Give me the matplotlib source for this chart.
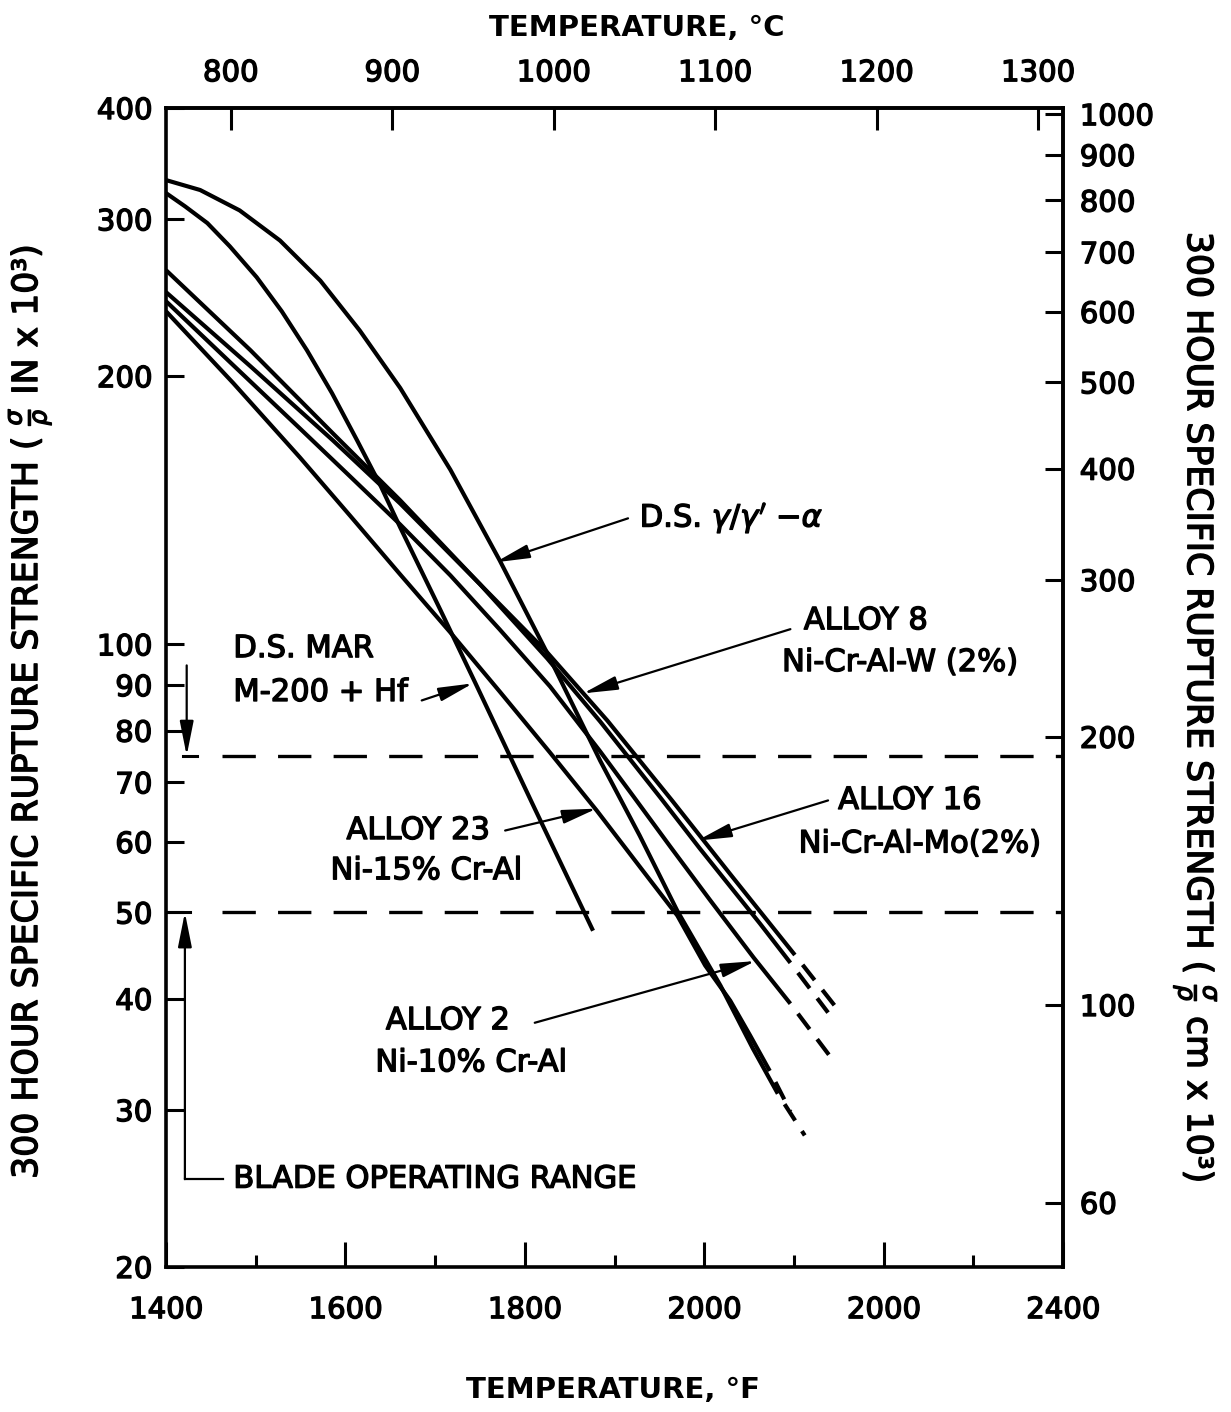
import matplotlib.pyplot as plt
import matplotlib.patheffects as pe
from matplotlib.ticker import NullLocator

plt.rcParams['font.family'] = ['DejaVu Sans']
plt.rcParams['mathtext.fontset'] = 'dejavusans'
plt.rcParams['lines.scale_dashes'] = False

# temperature (F) vs 300 hour specific rupture strength (sigma/rho, in x 10^3)
ds_gamma_temp = [1400, 1438, 1482, 1527, 1572, 1616, 1661, 1717, 1772, 1828, 1884,
                 1928, 1970, 2018, 2054, 2082]
ds_gamma_str = [332, 323.6, 307, 284, 256, 225, 194, 157, 124.2, 96.4, 74.0,
                61.0, 50.2, 41.4, 35.2, 31.3]
ds_gamma_ext_temp = [2082, 2112]
ds_gamma_ext_str = [31.3, 28.1]

ds_mar_temp = [1400, 1421, 1446, 1471, 1501, 1529, 1557, 1585, 1613, 1639, 1661,
               1706, 1745, 1811, 1876]
ds_mar_str = [321, 310.3, 297.1, 279.8, 258.3, 236.5, 213.9, 191.4, 169.4, 150.8,
              135.3, 109.2, 90.4, 65.4, 47.7]

alloy8_temp = [1400, 1494, 1586, 1661, 1750, 1825, 1892, 1964, 2029, 2101]
alloy8_str = [248.5, 205.2, 169.4, 143.9, 116.8, 97.9, 82.1, 66.8, 55.2, 44.8]
alloy8_ext_temp = [2101, 2148]
alloy8_ext_str = [44.8, 39.0]

alloy16_temp = [1400, 1494, 1586, 1661, 1750, 1825, 1884, 1951, 1995, 2062, 2096]
alloy16_str = [263, 213.9, 172.5, 145.1, 116.8, 96.4, 81.9, 67.3, 59.0, 48.6, 43.9]
alloy16_ext_temp = [2096, 2138]
alloy16_ext_str = [43.9, 38.6]

alloy23_temp = [1400, 1475, 1549, 1605, 1661, 1717, 1772, 1828, 1880, 1928, 1970,
                2001, 2029, 2051, 2073]
alloy23_str = [236.5, 196.4, 162.2, 139.5, 119.8, 103.1, 88.5, 75.6, 65.1, 56.3, 49.6,
               43.6, 39.8, 36.4, 33.2]
alloy23_ext_temp = [2073, 2096]
alloy23_ext_str = [33.2, 29.9]

alloy2_temp = [1400, 1475, 1549, 1605, 1661, 1717, 1772, 1828, 1884, 1921, 1962,
               2006, 2055, 2096]
alloy2_str = [242.7, 205.7, 174.8, 154.4, 136.3, 119.5, 103.9, 89.7, 75.8, 67.5, 59.3,
              51.7, 44.5, 39.5]
alloy2_ext_temp = [2096, 2140]
alloy2_ext_str = [39.5, 34.5]

# blade operating range limits
range_top = 75
range_bottom = 50

# axis ticks
f_ticks = [1400, 1600, 1800, 2000, 2200, 2400]
f_labels = ['1400', '1600', '1800', '2000', '2000', '2400']
f_minor = [1500, 1700, 1900, 2100, 2300]
c_ticks = [800, 900, 1000, 1100, 1200, 1300]
left_ticks = [20, 30, 40, 50, 60, 70, 80, 90, 100, 200, 300, 400]
right_ticks = [60, 100, 200, 300, 400, 500, 600, 700, 800, 900, 1000]

heavy = [pe.withStroke(linewidth=1.0, foreground='black')]

fig = plt.figure(figsize=(12.31, 14.12), dpi=100)
ax = fig.add_axes([0.1349, 0.1027, 0.7287, 0.8208])
ax.set_yscale('log')
ax.set_xlim(1400, 2400)
ax.set_ylim(20, 400)
for s in ax.spines.values():
    s.set_linewidth(2.6)

ax.set_xticks(f_ticks, labels=f_labels)
ax.set_xticks(f_minor, minor=True)
ax.set_yticks(left_ticks, labels=[str(v) for v in left_ticks])
ax.yaxis.set_minor_locator(NullLocator())
ax.tick_params(axis='x', which='major', direction='in', length=18, width=2.2,
               pad=21, labelsize=21)
ax.tick_params(axis='x', which='minor', direction='in', length=9, width=2.2)
ax.tick_params(axis='y', direction='in', length=13, width=2.2, pad=10, labelsize=21)

top = ax.secondary_xaxis('top', functions=(lambda f: (f - 32) * 5 / 9,
                                           lambda c: c * 9 / 5 + 32))
top.set_xticks(c_ticks, labels=[str(c) for c in c_ticks])
top.tick_params(direction='in', length=16, width=2.2, pad=15, labelsize=21)
top.spines['top'].set_linewidth(2.6)

right = ax.secondary_yaxis('right', functions=(lambda s: s * 2.54, lambda s: s / 2.54))
right.set_yticks(right_ticks, labels=[str(v) for v in right_ticks])
right.yaxis.set_minor_locator(NullLocator())
right.tick_params(direction='in', length=13, width=2.2, pad=12, labelsize=21)
right.spines['right'].set_linewidth(2.6)

for lbl in (ax.get_xticklabels() + ax.get_yticklabels() +
            top.get_xticklabels() + right.get_yticklabels()):
    lbl.set_path_effects(heavy)

# curves
lw = 3.0
ext_ls = (14, (14, 9))
for t, s in [(ds_gamma_temp, ds_gamma_str), (ds_mar_temp, ds_mar_str),
             (alloy8_temp, alloy8_str), (alloy16_temp, alloy16_str),
             (alloy23_temp, alloy23_str), (alloy2_temp, alloy2_str)]:
    ax.plot(t, s, color='black', lw=lw, solid_capstyle='butt', solid_joinstyle='round')
for t, s in [(ds_gamma_ext_temp, ds_gamma_ext_str), (alloy8_ext_temp, alloy8_ext_str),
             (alloy16_ext_temp, alloy16_ext_str), (alloy23_ext_temp, alloy23_ext_str),
             (alloy2_ext_temp, alloy2_ext_str)]:
    ax.plot(t, s, color='black', lw=lw, ls=ext_ls, dash_capstyle='butt')

# blade operating range
for v in [range_top, range_bottom]:
    ax.plot([1462, 2400], [v, v], color='black', lw=2.4, ls=(0, (24, 16)))
ax.plot([1419, 1434], [range_top, range_top], color='black', lw=2.2)
ax.plot([1400, 1427], [range_bottom, range_bottom], color='black', lw=2.2)

arrow = dict(arrowstyle='-|>,head_length=0.7,head_width=0.14', color='black',
             lw=1.6, mutation_scale=30, shrinkA=0, shrinkB=0)
ax.annotate('', xy=(1423, range_top), xytext=(1423, 94.7), arrowprops=arrow)
ax.annotate('', xy=(1421, range_bottom), xytext=(1421, 25.1), arrowprops=arrow)
ax.plot([1421, 1464], [25.1, 25.1], color='black', lw=1.6)

fs = 22
texts = []
texts.append(ax.text(1475, 25.1, 'BLADE OPERATING RANGE', fontsize=fs, va='center', ha='left'))

# labels and arrows
texts.append(ax.text(1475, 98.9, 'D.S. MAR', fontsize=fs, va='center', ha='left'))
texts.append(ax.text(1475, 88.3, 'M-200 + Hf', fontsize=fs, va='center', ha='left'))
ax.annotate('', xy=(1742, 90.4), xytext=(1685, 86.5), arrowprops=arrow)

texts.append(ax.text(1928, 138.5, r"D.S. $\gamma/\gamma'$ $-\alpha$", fontsize=fs,
                     va='center', ha='left'))
ax.annotate('', xy=(1767, 123.6), xytext=(1915, 138.5), arrowprops=arrow)

texts.append(ax.text(2180, 106.3, 'ALLOY 8', fontsize=fs, va='center', ha='center'))
texts.append(ax.text(2218, 95.4, 'Ni-Cr-Al-W (2%)', fontsize=fs, va='center', ha='center'))
ax.annotate('', xy=(1865, 88.1), xytext=(2096, 104), arrowprops=arrow)

texts.append(ax.text(2229, 66.8, 'ALLOY 16', fontsize=fs, va='center', ha='center'))
texts.append(ax.text(2240, 59.7, 'Ni-Cr-Al-Mo(2%)', fontsize=fs, va='center', ha='center'))
ax.annotate('', xy=(1992, 60.2), xytext=(2138, 66.8), arrowprops=arrow)

texts.append(ax.text(1681, 61.8, 'ALLOY 23', fontsize=fs, va='center', ha='center'))
texts.append(ax.text(1690, 55.7, 'Ni-15% Cr-Al', fontsize=fs, va='center', ha='center'))
ax.annotate('', xy=(1880, 65.4), xytext=(1778, 61.8), arrowprops=arrow)

texts.append(ax.text(1714, 37.8, 'ALLOY 2', fontsize=fs, va='center', ha='center'))
texts.append(ax.text(1740, 33.9, 'Ni-10% Cr-Al', fontsize=fs, va='center', ha='center'))
ax.annotate('', xy=(2057, 44.1), xytext=(1811, 37.6), arrowprops=arrow)

# axis titles
fig.text(0.5175, 0.980, 'TEMPERATURE, °C', fontsize=21, fontweight='bold',
         ha='center', va='center')
fig.text(0.498, 0.0156, 'TEMPERATURE, °F', fontsize=21, fontweight='bold',
         ha='center', va='center')
texts.append(fig.text(0.024, 0.496,
                      r'300 HOUR SPECIFIC RUPTURE STRENGTH ( $\frac{\sigma}{\rho}$ IN x 10³)',
                      fontsize=25, rotation=90, ha='center', va='center'))
texts.append(fig.text(0.971, 0.499,
                      r'300 HOUR SPECIFIC RUPTURE STRENGTH ( $\frac{\sigma}{\rho}$ cm x 10³)',
                      fontsize=25, rotation=-90, ha='center', va='center'))
for t in texts:
    t.set_path_effects(heavy)

fig.savefig('out.png', dpi=100)
